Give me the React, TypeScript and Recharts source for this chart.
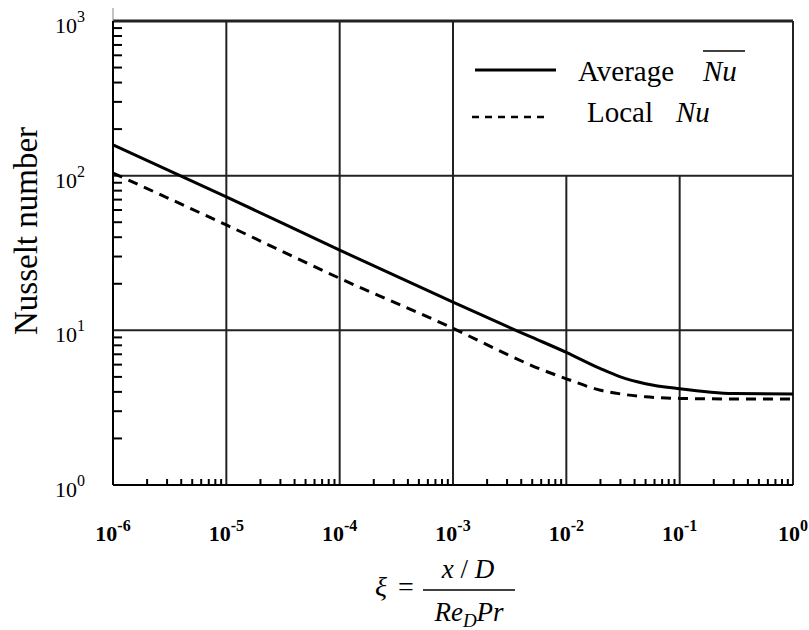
import { LineChart, Line, XAxis, YAxis, ReferenceLine } from 'recharts'

// ξ = (x/D) / (Re_D Pr)
const xi = [1e-6, 1e-5, 1e-4, 1e-3, 3e-3, 5e-3, 1e-2, 2e-2, 3e-2, 5e-2, 1e-1, 3e-1, 1]
const averageNu = [158, 73, 33, 15.2, 10.6, 9.0, 7.2, 5.65, 5.0, 4.52, 4.19, 3.9, 3.87]
const localNu = [104, 48, 21.7, 10.3, 7.0, 5.9, 4.86, 4.1, 3.88, 3.72, 3.63, 3.6, 3.6]

const xDecades = [1e-6, 1e-5, 1e-4, 1e-3, 1e-2, 1e-1, 1]
const xExponents = ['-6', '-5', '-4', '-3', '-2', '-1', '0']
const yDecades = [1, 10, 100, 1000]
const yExponents = ['0', '1', '2', '3']
const minorSteps = [2, 3, 4, 5, 6, 7, 8, 9]

const data = xi.map((x, i) => ({ xi: x, avg: averageNu[i], local: localNu[i] }))

const withMinors = (decades: number[]) => {
  const out: number[] = []
  decades.forEach((d, i) => {
    out.push(d)
    if (i < decades.length - 1) minorSteps.forEach(m => out.push(d * m))
  })
  return out
}
const xTicks = withMinors(xDecades)
const yTicks = withMinors(yDecades)

const FONT = "'Liberation Serif', 'Times New Roman', serif"
const majorIndex = (v: number, decades: number[]) =>
  decades.findIndex(d => Math.abs(v / d - 1) < 1e-6)

function XTick({ x, y, payload }: any) {
  const i = majorIndex(payload.value, xDecades)
  if (i < 0) {
    return <line x1={x} x2={x} y1={y} y2={y - 6} stroke="#000" strokeWidth={2} />
  }
  return (
    <text x={x} y={y + 56} textAnchor="middle" fontFamily={FONT} fontWeight="bold" fontSize={22} fill="#000">
      10<tspan fontSize={16} dy={-10}>{xExponents[i]}</tspan>
    </text>
  )
}

function YTick({ x, y, payload }: any) {
  const i = majorIndex(payload.value, yDecades)
  if (i < 0) {
    return <line x1={x} x2={x + 9} y1={y} y2={y} stroke="#000" strokeWidth={2} />
  }
  return (
    <text x={x - 28} y={y + 12} textAnchor="end" fontFamily={FONT} fontSize={22} fill="#000">
      10<tspan fontSize={16} dy={-11}>{yExponents[i]}</tspan>
    </text>
  )
}

export default function App() {
  return (
    <div style={{ position: 'absolute', left: 0, top: 0, width: 809, height: 630, background: '#fff' }}>
      <LineChart width={809} height={630} data={data} margin={{ top: 21, right: 16, bottom: 144, left: 112 }}>
        <XAxis
          dataKey="xi"
          type="number"
          scale="log"
          domain={[1e-6, 1]}
          allowDataOverflow
          ticks={xTicks}
          interval={0}
          tick={XTick}
          tickLine={false}
          tickSize={0}
          tickMargin={0}
          height={1}
          axisLine={{ stroke: '#000', strokeWidth: 2 }}
        />
        <YAxis
          type="number"
          scale="log"
          domain={[1, 1000]}
          allowDataOverflow
          ticks={yTicks}
          interval={0}
          tick={YTick}
          tickLine={false}
          tickSize={0}
          tickMargin={0}
          width={1}
          axisLine={{ stroke: '#000', strokeWidth: 2 }}
        />
        {xDecades.map(d =>
          d > 1e-3 && d < 1 ? (
            <ReferenceLine
              key={'vx' + d}
              segment={[{ x: d, y: 1 }, { x: d, y: 100 }]}
              stroke="#222"
              strokeWidth={2}
            />
          ) : (
            <ReferenceLine key={'vx' + d} x={d} stroke="#222" strokeWidth={2} />
          )
        )}
        {yDecades.map(d => (
          <ReferenceLine key={'hy' + d} y={d} stroke="#222" strokeWidth={d === 1000 ? 3 : 2} />
        ))}
        <Line type="monotone" dataKey="avg" stroke="#000" strokeWidth={3} dot={false} isAnimationActive={false} />
        <Line
          type="monotone"
          dataKey="local"
          stroke="#000"
          strokeWidth={3}
          strokeDasharray="10 7"
          dot={false}
          isAnimationActive={false}
        />
      </LineChart>
      <svg
        width={809}
        height={630}
        style={{ position: 'absolute', left: 0, top: 0, pointerEvents: 'none' }}
        fontFamily={FONT}
        fill="#000"
      >
        {/* stub of the y axis above the frame */}
        <line x1={113} x2={113} y1={8} y2={21} stroke="#888" strokeWidth={1} />

        {/* legend */}
        <line x1={475} x2={556} y1={70} y2={70} stroke="#000" strokeWidth={3} />
        <text x={578} y={81} fontSize={29}>Average</text>
        <text x={703} y={81} fontSize={29} fontStyle="italic">Nu</text>
        <line x1={703} x2={745} y1={51} y2={51} stroke="#000" strokeWidth={1.5} />
        <line x1={472} x2={547} y1={117} y2={117} stroke="#000" strokeWidth={2.5} strokeDasharray="7 6" />
        <text x={587} y={122} fontSize={29}>Local</text>
        <text x={676} y={122} fontSize={29} fontStyle="italic">Nu</text>

        {/* y axis title */}
        <text transform="translate(37,231) rotate(-90)" textAnchor="middle" fontSize={33}>
          Nusselt number
        </text>

        {/* x axis title */}
        <text x={375} y={596} fontSize={28} fontStyle="italic">ξ</text>
        <text x={398} y={596} fontSize={28}>=</text>
        <text x={468} y={578} textAnchor="middle" fontSize={27}>
          <tspan fontStyle="italic">x</tspan> / <tspan fontStyle="italic">D</tspan>
        </text>
        <line x1={423} x2={515} y1={590} y2={590} stroke="#000" strokeWidth={1.5} />
        <text x={469} y={621} textAnchor="middle" fontSize={27} fontStyle="italic">
          Re<tspan fontSize={19} dy={6}>D</tspan>
          <tspan dy={-6}>Pr</tspan>
        </text>
      </svg>
    </div>
  )
}
